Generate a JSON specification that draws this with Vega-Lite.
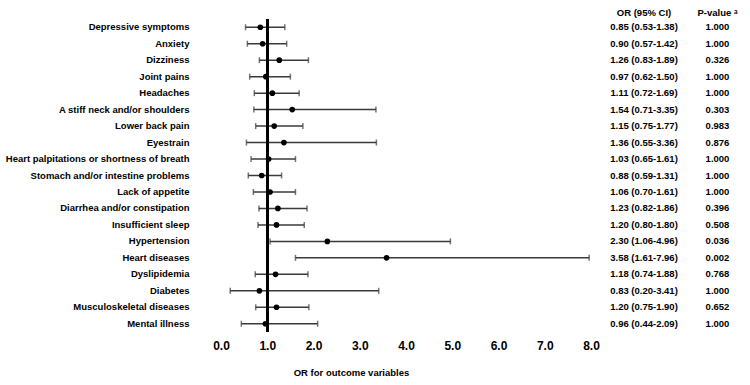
{
  "$schema": "https://vega.github.io/schema/vega-lite/v6.json",
  "background": "white",
  "padding": {"left": 5, "top": 7, "right": 5, "bottom": 3},
  "bounds": "flush",
  "spacing": 0,
  "config": {"view": {"stroke": null}, "font": "Liberation Sans"},
  "datasets": {
    "rows": [
      {"outcome": "Depressive symptoms", "or": 0.85, "lo": 0.53, "hi": 1.38, "ci": "0.85 (0.53-1.38)", "p": "1.000"},
      {"outcome": "Anxiety", "or": 0.90, "lo": 0.57, "hi": 1.42, "ci": "0.90 (0.57-1.42)", "p": "1.000"},
      {"outcome": "Dizziness", "or": 1.26, "lo": 0.83, "hi": 1.89, "ci": "1.26 (0.83-1.89)", "p": "0.326"},
      {"outcome": "Joint pains", "or": 0.97, "lo": 0.62, "hi": 1.50, "ci": "0.97 (0.62-1.50)", "p": "1.000"},
      {"outcome": "Headaches", "or": 1.11, "lo": 0.72, "hi": 1.69, "ci": "1.11 (0.72-1.69)", "p": "1.000"},
      {"outcome": "A stiff neck and/or shoulders", "or": 1.54, "lo": 0.71, "hi": 3.35, "ci": "1.54 (0.71-3.35)", "p": "0.303"},
      {"outcome": "Lower back pain", "or": 1.15, "lo": 0.75, "hi": 1.77, "ci": "1.15 (0.75-1.77)", "p": "0.983"},
      {"outcome": "Eyestrain", "or": 1.36, "lo": 0.55, "hi": 3.36, "ci": "1.36 (0.55-3.36)", "p": "0.876"},
      {"outcome": "Heart palpitations or shortness of breath", "or": 1.03, "lo": 0.65, "hi": 1.61, "ci": "1.03 (0.65-1.61)", "p": "1.000"},
      {"outcome": "Stomach and/or intestine problems", "or": 0.88, "lo": 0.59, "hi": 1.31, "ci": "0.88 (0.59-1.31)", "p": "1.000"},
      {"outcome": "Lack of appetite", "or": 1.06, "lo": 0.70, "hi": 1.61, "ci": "1.06 (0.70-1.61)", "p": "1.000"},
      {"outcome": "Diarrhea and/or constipation", "or": 1.23, "lo": 0.82, "hi": 1.86, "ci": "1.23 (0.82-1.86)", "p": "0.396"},
      {"outcome": "Insufficient sleep", "or": 1.20, "lo": 0.80, "hi": 1.80, "ci": "1.20 (0.80-1.80)", "p": "0.508"},
      {"outcome": "Hypertension", "or": 2.30, "lo": 1.06, "hi": 4.96, "ci": "2.30 (1.06-4.96)", "p": "0.036"},
      {"outcome": "Heart diseases", "or": 3.58, "lo": 1.61, "hi": 7.96, "ci": "3.58 (1.61-7.96)", "p": "0.002"},
      {"outcome": "Dyslipidemia", "or": 1.18, "lo": 0.74, "hi": 1.88, "ci": "1.18 (0.74-1.88)", "p": "0.768"},
      {"outcome": "Diabetes", "or": 0.83, "lo": 0.20, "hi": 3.41, "ci": "0.83 (0.20-3.41)", "p": "1.000"},
      {"outcome": "Musculoskeletal diseases", "or": 1.20, "lo": 0.75, "hi": 1.90, "ci": "1.20 (0.75-1.90)", "p": "0.652"},
      {"outcome": "Mental illness", "or": 0.96, "lo": 0.44, "hi": 2.09, "ci": "0.96 (0.44-2.09)", "p": "1.000"}
    ]
  },
  "hconcat": [
    {
      "width": 370,
      "height": 313,
      "data": {"name": "rows"},
      "layer": [
        {
          "mark": {"type": "rule", "color": "#3a3a3a", "strokeWidth": 1.5},
          "encoding": {
            "y": {"field": "outcome", "type": "nominal", "sort": null,
              "scale": {"paddingInner": 0, "paddingOuter": 0},
              "axis": {"title": null, "ticks": false, "domain": false, "grid": false, "labelPadding": 32,
                "labelFontSize": 9.5, "labelFontWeight": "bold", "labelColor": "black", "labelLimit": 400}},
            "x": {"field": "lo", "type": "quantitative",
              "scale": {"domain": [0, 8], "nice": false, "zero": false},
              "axis": {"values": [0, 1, 2, 3, 4, 5, 6, 7, 8], "format": ".1f", "ticks": false, "domain": false, "grid": false,
                "labelFlush": false, "labelOverlap": false, "labelFontSize": 12, "labelFontWeight": "bold", "labelColor": "black",
                "labelPadding": 8,
                "title": "OR for outcome variables", "titleFontSize": 9.5, "titleFontWeight": "bold", "titleColor": "black",
                "titleX": 130, "titleY": 43, "titleAlign": "center", "titleBaseline": "alphabetic"}},
            "x2": {"field": "hi"}
          }
        },
        {
          "mark": {"type": "tick", "color": "#3a3a3a", "thickness": 1.5, "size": 6},
          "encoding": {
            "y": {"field": "outcome", "type": "nominal", "sort": null},
            "x": {"field": "lo", "type": "quantitative"}
          }
        },
        {
          "mark": {"type": "tick", "color": "#3a3a3a", "thickness": 1.5, "size": 6},
          "encoding": {
            "y": {"field": "outcome", "type": "nominal", "sort": null},
            "x": {"field": "hi", "type": "quantitative"}
          }
        },
        {
          "mark": {"type": "rule", "color": "black", "strokeWidth": 2},
          "encoding": {"x": {"datum": 1, "type": "quantitative"}}
        },
        {
          "mark": {"type": "point", "filled": true, "color": "black", "opacity": 1, "size": 32},
          "encoding": {
            "y": {"field": "outcome", "type": "nominal", "sort": null},
            "x": {"field": "or", "type": "quantitative"}
          }
        }
      ]
    },
    {
      "width": 106,
      "height": 313,
      "data": {"name": "rows"},
      "title": {"text": "OR (95% CI)", "fontSize": 9.5, "fontWeight": "bold", "color": "black", "anchor": "middle", "offset": 2},
      "mark": {"type": "text", "fontSize": 9.5, "fontWeight": "bold", "color": "black", "align": "center", "baseline": "middle"},
      "encoding": {
        "y": {"field": "outcome", "type": "nominal", "sort": null, "scale": {"paddingInner": 0, "paddingOuter": 0}, "axis": null},
        "text": {"field": "ci"}
      }
    },
    {
      "width": 41,
      "height": 313,
      "data": {"name": "rows"},
      "title": {"text": "P-value ᵃ", "fontSize": 9.5, "fontWeight": "bold", "color": "black", "anchor": "middle", "offset": 2},
      "mark": {"type": "text", "fontSize": 9.5, "fontWeight": "bold", "color": "black", "align": "center", "baseline": "middle"},
      "encoding": {
        "y": {"field": "outcome", "type": "nominal", "sort": null, "scale": {"paddingInner": 0, "paddingOuter": 0}, "axis": null},
        "text": {"field": "p"}
      }
    }
  ]
}
